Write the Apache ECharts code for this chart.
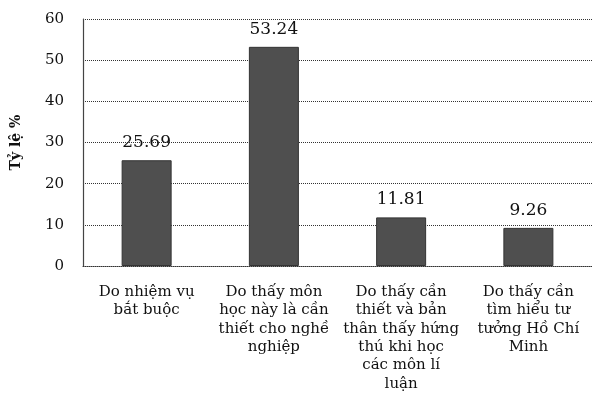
<!DOCTYPE html>
<html>
<head>
<meta charset="utf-8">
<script src="https://cdn.jsdelivr.net/npm/echarts@6/dist/echarts.min.js"></script>
<style>
  html, body { margin: 0; padding: 0; background: #fff; }
  #chart { width: 592px; height: 402px; }
</style>
</head>
<body>
<div id="chart"></div>
<script>
// nhãn trục x (xuống dòng như bản gốc)
var categories = [
    'Do nhiệm vụ\nbắt buộc',
    'Do thấy môn\nhọc này là cần\nthiết cho nghề\nnghiệp',
    'Do thấy cần\nthiết và bản\nthân thấy hứng\nthú khi học\ncác môn lí\nluận',
    'Do thấy cần\ntìm hiểu tư\ntưởng Hồ Chí\nMinh'
];
var values = [25.69, 53.24, 11.81, 9.26];
var yTicks = [0, 10, 20, 30, 40, 50, 60];

var serif = '"DejaVu Serif", "Liberation Serif", serif';
var chart = echarts.init(document.getElementById('chart'));

var option = {
    animation: false,
    backgroundColor: '#fff',
    grid: {left: 83, width: 519, top: 19, bottom: 136},
    xAxis: {
        type: 'category',
        data: categories,
        axisLine: {show: true, lineStyle: {color: '#333', type: 'dotted', width: 1}},
        axisTick: {show: false},
        axisLabel: {
            interval: 0,
            margin: 17,
            color: '#111',
            fontFamily: serif,
            fontSize: 15,
            lineHeight: 18.3,
            align: 'center'
        }
    },
    yAxis: {
        type: 'value',
        min: 0,
        max: 60,
        interval: 10,
        name: 'Tỷ lệ %',
        nameLocation: 'middle',
        nameGap: 60,
        nameTextStyle: {fontFamily: serif, fontSize: 14, fontWeight: 'bold', color: '#111'},
        axisLine: {show: true, lineStyle: {color: '#444', width: 1.2}},
        axisTick: {show: false},
        axisLabel: {
            fontFamily: serif, fontSize: 15, color: '#111', margin: 19,
            formatter: function (v) { return yTicks.indexOf(v) >= 0 ? String(v) : ''; }
        },
        splitLine: {show: true, lineStyle: {color: '#333', type: 'dotted', width: 1}}
    },
    series: [{
        type: 'bar',
        data: values,
        barWidth: 50,
        itemStyle: {color: '#4f4f4f', borderColor: '#333', borderWidth: 1},
        label: {
            show: true,
            position: 'top',
            distance: 9,
            fontFamily: serif,
            fontSize: 17,
            color: '#111',
            formatter: function (p) { return p.value.toFixed(2); }
        }
    }]
};
chart.setOption(option);
</script>
</body>
</html>
